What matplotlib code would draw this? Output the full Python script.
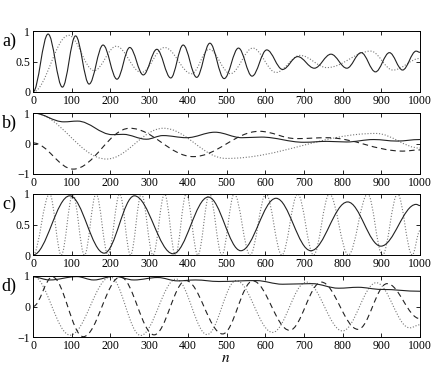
import matplotlib
matplotlib.use("Agg")
import matplotlib.pyplot as plt
from matplotlib.path import Path
from matplotlib.patches import PathPatch

# extrema (n, value)
a_solid_n = [0, 39, 76, 110, 145, 181, 217, 250, 285, 320, 356, 388, 423, 457, 494,
             531, 566, 604, 645, 684, 727, 770, 811, 848, 885, 921, 955, 990, 1000]
a_solid_v = [0.0, 0.95, 0.08, 0.92, 0.13, 0.77, 0.21, 0.73, 0.28, 0.70, 0.23, 0.77, 0.24, 0.80, 0.22,
             0.72, 0.26, 0.69, 0.37, 0.58, 0.39, 0.62, 0.39, 0.645, 0.33, 0.645, 0.36, 0.67, 0.65]
a_dot_n = [0, 92, 158, 215, 280, 340, 410, 455, 510, 568, 628, 690, 760, 873, 930, 1000]
a_dot_v = [0.0, 0.93, 0.35, 0.75, 0.32, 0.73, 0.30, 0.70, 0.30, 0.72, 0.32, 0.60, 0.40, 0.67, 0.36, 0.55]

b_solid_n = [0, 80, 115, 205, 233, 293, 336, 397, 470, 540, 590, 700, 760, 810, 880, 940, 1000]
b_solid_v = [1.0, 0.71, 0.735, 0.29, 0.30, 0.14, 0.26, 0.19, 0.37, 0.19, 0.21, 0.04, 0.07, 0.05, 0.13, 0.08, 0.13]
b_dash_n = [0, 104, 250, 414, 585, 680, 760, 955, 1000]
b_dash_v = [0.02, -0.84, 0.50, -0.43, 0.40, 0.16, 0.19, -0.25, -0.21]
b_dot_n = [0, 190, 337, 499, 886, 1000]
b_dot_v = [1.0, -0.51, 0.50, -0.49, 0.33, -0.15]

c_solid_n = [0, 95, 184, 262, 362, 453, 537, 628, 718, 813, 899, 990, 1000]
c_solid_v = [0.0, 0.97, 0.03, 0.97, 0.02, 0.95, 0.07, 0.93, 0.07, 0.87, 0.145, 0.83, 0.81]
c_dot_n = [0, 43, 73, 103, 133, 163, 194, 224, 252, 280, 310, 340, 368, 396, 426, 456,
           488, 520, 561, 602, 643, 684, 725, 766, 815, 865, 903, 942, 980, 1000]
c_dot_v = [0.0, 1.0, 0.0, 1.0, 0.0, 1.0, 0.0, 1.0, 0.0, 1.0, 0.0, 1.0, 0.0, 1.0, 0.0, 1.0,
           0.0, 1.0, 0.0, 1.0, 0.0, 1.0, 0.0, 1.0, 0.0, 1.0, 0.0, 1.0, 0.0, 0.4]

d_solid_n = [0, 43, 113, 157, 209, 261, 322, 374, 420, 480, 576, 645, 720, 790, 840, 900, 1000]
d_solid_v = [0.97, 0.87, 0.98, 0.87, 0.99, 0.87, 0.95, 0.84, 0.87, 0.82, 0.85, 0.73, 0.75, 0.60, 0.63, 0.56, 0.50]
d_dash_n = [0, 50, 130, 226, 313, 395, 490, 568, 663, 745, 840, 915, 1000]
d_dash_v = [0.0, 0.97, -0.99, 0.97, -0.93, 0.85, -0.90, 0.84, -0.78, 0.80, -0.75, 0.75, -0.40]
d_dot_n = [0, 96, 200, 278, 370, 450, 525, 619, 706, 800, 887, 973, 1000]
d_dot_v = [1.0, -0.94, 0.97, -0.95, 0.90, -0.92, 0.85, -0.85, 0.80, -0.80, 0.78, -0.70, -0.60]

xticks = list(range(0, 1001, 100))
K = 0.363  # bezier handle, gives a cosine-like shape between extrema

SOLID = dict(edgecolor="#222222", lw=0.8, linestyle="-")
DASH = dict(edgecolor="#222222", lw=0.8, linestyle=(0, (5, 3.5)))
DOT = dict(edgecolor="#777777", lw=0.8, linestyle=(0, (1, 1.6)))


def curve(ax, ns, vs, style):
    verts = [(ns[0], vs[0])]
    codes = [Path.MOVETO]
    for i in range(1, len(ns)):
        dn = ns[i] - ns[i - 1]
        verts += [(ns[i - 1] + K * dn, vs[i - 1]), (ns[i] - K * dn, vs[i]), (ns[i], vs[i])]
        codes += [Path.CURVE4] * 3
    ax.add_patch(PathPatch(Path(verts, codes), fill=False, **style))


plt.rcParams["font.family"] = ["Liberation Serif", "DejaVu Serif"]
plt.rcParams["mathtext.fontset"] = "stix"

fig = plt.figure(figsize=(4.36, 3.66), dpi=100)
left, width, height = 33 / 436, 387 / 436, 61 / 366
bottoms = [1 - 92 / 366, 1 - 174 / 366, 1 - 255 / 366, 1 - 337 / 366]

panels = [
    ("a)", (0, 1), [0, 0.5, 1], ["0", "0.5", "1"],
     [(a_dot_n, a_dot_v, DOT), (a_solid_n, a_solid_v, SOLID)]),
    ("b)", (-1, 1), [-1, 0, 1], ["\u22121", "0", "1"],
     [(b_dot_n, b_dot_v, DOT), (b_dash_n, b_dash_v, DASH), (b_solid_n, b_solid_v, SOLID)]),
    ("c)", (0, 1), [0, 0.5, 1], ["0", "0.5", "1"],
     [(c_dot_n, c_dot_v, DOT), (c_solid_n, c_solid_v, SOLID)]),
    ("d)", (-1, 1), [-1, 0, 1], ["\u22121", "0", "1"],
     [(d_dot_n, d_dot_v, DOT), (d_dash_n, d_dash_v, DASH), (d_solid_n, d_solid_v, SOLID)]),
]

for (label, ylim, yt, ytl, series), b in zip(panels, bottoms):
    ax = fig.add_axes([left, b, width, height])
    for ns, vs, st in series:
        curve(ax, ns, vs, st)
    ax.set_xlim(0, 1000)
    ax.set_ylim(*ylim)
    ax.set_xticks(xticks)
    ax.set_xticklabels([str(t) for t in xticks])
    ax.set_yticks(yt)
    ax.set_yticklabels(ytl)
    ax.tick_params(direction="in", length=3, width=0.6, labelsize=8.5, pad=2,
                   top=True, right=True)
    for sp in ax.spines.values():
        sp.set_linewidth(0.7)
    ax.text(-0.062, 0.83, label, transform=ax.transAxes, fontsize=13,
            ha="center", va="center")

fig.text(226 / 436, 1 - 359 / 366, "$n$", fontsize=11, ha="center", va="center")

fig.savefig("out.png", dpi=100)
